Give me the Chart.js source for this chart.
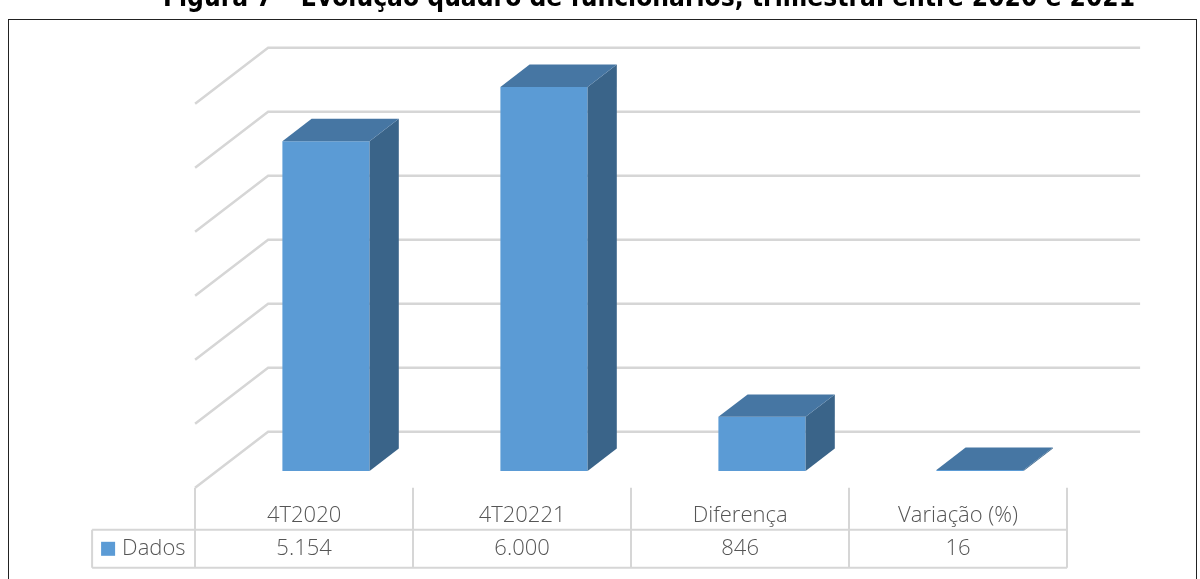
<!DOCTYPE html>
<html>
<head>
<meta charset="utf-8">
<script src="https://cdn.jsdelivr.net/npm/chart.js@4"></script>
<style>
  body { margin: 0; background: #fff; }
  canvas { display: block; }
</style>
</head>
<body>
<canvas id="chart" width="1200" height="579"></canvas>
<script>
// data
const categories = ["4T2020", "4T20221", "Diferença", "Variação (%)"];
const values = [5154, 6000, 846, 16];
const valueLabels = ["5.154", "6.000", "846", "16"];
const gridValues = [0, 1000, 2000, 3000, 4000, 5000, 6000];
const seriesName = "Dados";
const titleText = "Figura 7 – Evolução quadro de funcionários, trimestral entre 2020 e 2021";

// 3d look: full floor depth and where the bar sits in it
const depthX = 73, depthY = 56;
const barFront = 0.3, barBack = 0.7;

const frontColor = "#5B9BD5";
const topColor = "#4676A3";
const sideColor = "#3A6489";
const gridColor = "#D6D6D6";
const textColor = "#555555";
const font = '"Open Sans", "DejaVu Sans", sans-serif';

// back wall grid + side wall diagonals
const grid3d = {
  id: "grid3d",
  beforeDatasetsDraw(chart) {
    const ctx = chart.ctx;
    const y = chart.scales.y;
    const area = chart.chartArea;
    const floorLeft = area.left - barFront * depthX;
    const floorRight = area.right - barFront * depthX;
    ctx.save();
    ctx.strokeStyle = gridColor;
    ctx.lineWidth = 2.5;
    gridValues.forEach(v => {
      const yb = y.getPixelForValue(v) - (1 - barFront) * depthY;
      ctx.beginPath();
      ctx.moveTo(floorLeft, yb + depthY);
      ctx.lineTo(floorLeft + depthX, yb);
      ctx.lineTo(floorRight + depthX, yb);
      ctx.stroke();
    });
    ctx.restore();
  }
};

// top and side faces of the columns
const bars3d = {
  id: "bars3d",
  afterDatasetsDraw(chart) {
    const ctx = chart.ctx;
    const dx = (barBack - barFront) * depthX;
    const dy = (barBack - barFront) * depthY;
    chart.getDatasetMeta(0).data.forEach(bar => {
      const left = bar.x - bar.width / 2;
      const right = bar.x + bar.width / 2;
      const top = bar.y;
      const base = bar.base;
      ctx.save();
      ctx.fillStyle = sideColor;
      ctx.beginPath();
      ctx.moveTo(right, top);
      ctx.lineTo(right + dx, top - dy);
      ctx.lineTo(right + dx, base - dy);
      ctx.lineTo(right, base);
      ctx.closePath();
      ctx.fill();
      ctx.fillStyle = topColor;
      ctx.beginPath();
      ctx.moveTo(left, top);
      ctx.lineTo(right, top);
      ctx.lineTo(right + dx, top - dy);
      ctx.lineTo(left + dx, top - dy);
      ctx.closePath();
      ctx.fill();
      ctx.restore();
    });
  }
};

// data table under the plot, title and frame
const tableAndFrame = {
  id: "tableAndFrame",
  afterDraw(chart) {
    const ctx = chart.ctx;
    const x = chart.scales.x;
    const area = chart.chartArea;
    const shift = barFront * depthX;
    const colW = (area.right - area.left) / categories.length;
    const tableLeft = area.left - shift;
    const tableRight = area.right - shift;
    const rowTop = area.bottom + barFront * depthY;
    const headerBottom = rowTop + 42;
    const rowBottom = headerBottom + 38;
    const legendLeft = tableLeft - 103;

    ctx.save();
    ctx.strokeStyle = gridColor;
    ctx.lineWidth = 2;
    ctx.beginPath();
    for (let i = 0; i <= categories.length; i++) {
      const lx = Math.round(tableLeft + i * colW);
      ctx.moveTo(lx, rowTop);
      ctx.lineTo(lx, rowBottom);
    }
    ctx.moveTo(legendLeft, headerBottom);
    ctx.lineTo(tableRight, headerBottom);
    ctx.moveTo(legendLeft, rowBottom);
    ctx.lineTo(tableRight, rowBottom);
    ctx.moveTo(legendLeft, headerBottom);
    ctx.lineTo(legendLeft, rowBottom);
    ctx.stroke();

    ctx.fillStyle = textColor;
    ctx.font = "300 22px " + font;
    ctx.textAlign = "center";
    ctx.textBaseline = "middle";
    categories.forEach((c, i) => {
      const cx = x.getPixelForValue(i) - shift;
      ctx.fillText(c, cx, (rowTop + headerBottom) / 2 + 7);
      ctx.fillText(valueLabels[i], cx, (headerBottom + rowBottom) / 2);
    });
    ctx.textAlign = "left";
    ctx.fillText(seriesName, legendLeft + 30, (headerBottom + rowBottom) / 2);
    ctx.fillStyle = frontColor;
    ctx.fillRect(legendLeft + 9, (headerBottom + rowBottom) / 2 - 7, 14, 14);

    // outer frame
    ctx.strokeStyle = "#222";
    ctx.lineWidth = 1;
    ctx.strokeRect(8.5, 19.5, 1188, 600);

    // title, cut off by the top edge
    ctx.fillStyle = "#000";
    ctx.font = 'bold 26px "Liberation Sans Narrow", "DejaVu Sans Condensed", sans-serif';
    const w = ctx.measureText(titleText).width;
    ctx.save();
    ctx.translate(649, 6);
    ctx.scale(972 / w, 1);
    ctx.textAlign = "center";
    ctx.textBaseline = "alphabetic";
    ctx.fillText(titleText, 0, 0);
    ctx.restore();
    ctx.restore();
  }
};

new Chart(document.getElementById("chart"), {
  type: "bar",
  data: {
    labels: categories,
    datasets: [{
      label: seriesName,
      data: values,
      backgroundColor: frontColor,
      borderWidth: 0,
      categoryPercentage: 1,
      barPercentage: 0.4
    }]
  },
  options: {
    responsive: false,
    animation: false,
    layout: { padding: { left: 217, right: 111, top: 87, bottom: 108 } },
    scales: {
      x: { display: false },
      y: { display: false, min: 0, max: 6000 }
    },
    plugins: {
      legend: { display: false },
      tooltip: { enabled: false }
    }
  },
  plugins: [grid3d, bars3d, tableAndFrame]
});
</script>
</body>
</html>
